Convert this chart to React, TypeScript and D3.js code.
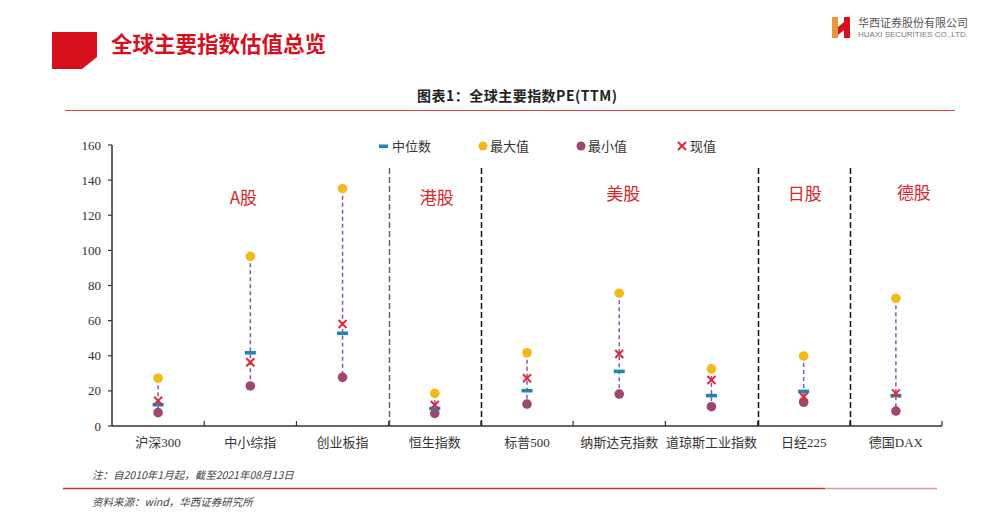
import React from "react";
import * as d3 from "d3";

const categories = ["沪深300", "中小综指", "创业板指", "恒生指数", "标普500", "纳斯达克指数", "道琼斯工业指数", "日经225", "德国DAX"];
const medianValues = [12.1, 41.7, 52.8, 10.0, 20.1, 31.1, 17.3, 19.7, 17.3];
const maxValues = [27.2, 96.6, 135.1, 18.6, 41.7, 75.6, 32.5, 39.9, 72.7];
const minValues = [7.6, 22.8, 27.7, 7.2, 12.5, 18.2, 11.0, 13.5, 8.5];
const currentValues = [14.4, 36.3, 58.1, 12.0, 27.2, 41.0, 26.2, 16.7, 18.6];
const yTicks = [0, 20, 40, 60, 80, 100, 120, 140, 160];
const groupNames = ["A股", "港股", "美股", "日股", "德股"];
const groupStarts = [0, 3, 4, 7, 8];
const groupEnds = [2, 3, 6, 7, 8];

const W = 1005;
const H = 519;
const C_MAX = "#f4b916";
const C_MIN = "#9c4770";
const C_MED = "#1a86b4";
const C_CUR = "#e0283c";
const C_LINK = "#8658a8";
const RED = "#d7101e";
const serif = "'Liberation Serif', 'Noto Sans CJK SC', serif";
const cjk = "'Noto Sans CJK SC', sans-serif";

function Cross({ x, y, s, c }: { x: number; y: number; s: number; c: string }) {
  return (
    <g stroke={c} strokeWidth={2}>
      <line x1={x - s} y1={y - s} x2={x + s} y2={y + s} />
      <line x1={x - s} y1={y + s} x2={x + s} y2={y - s} />
    </g>
  );
}

export default function App() {
  const x = d3.scaleBand<string>().domain(categories).range([112, 942]).padding(0);
  const y = d3.scaleLinear().domain([0, 160]).range([426, 145]);
  const bw = x.bandwidth();
  const cx = (i: number) => (x(categories[i]) as number) + bw / 2;
  const sepIdx = groupStarts.slice(1);
  const labelDx = [-7, 2, 4, 1, 18];
  const labelY = [198, 198, 194, 194, 193];

  return (
    <svg width={W} height={H} style={{ position: "absolute", left: 0, top: 0, background: "#fff" }}>
      <rect width={W} height={H} fill="#fff" />
      {/* header */}
      <polygon points="52,32 97,32 97,57 82,69 52,69" fill={RED} />
      <text x={111} y={52} fontFamily={cjk} fontWeight={700} fontSize={21.5} fill={RED}>全球主要指数估值总览</text>
      {/* logo */}
      <g>
        <rect x={832} y={17} width={6} height={21} fill="#e49a3c" />
        <rect x={844} y={17} width={6} height={21} fill="#d7101e" />
        <polygon points="838,27 844,22 844,30 838,35" fill="#d7101e" />
        <text x={858} y={27} fontFamily={cjk} fontSize={11} fill="#555">华西证券股份有限公司</text>
        <text x={858} y={37} fontFamily="'Liberation Sans', sans-serif" fontSize={8} fill="#777" textLength={110}>HUAXI SECURITIES CO.,LTD.</text>
      </g>
      {/* chart title */}
      <text x={517} y={101} textAnchor="middle" fontFamily={cjk} fontWeight={700} fontSize={14} fill="#222" textLength={200}>图表1：全球主要指数PE(TTM)</text>
      <line x1={65} x2={955} y1={110.5} y2={110.5} stroke="#d9454f" strokeWidth={1.2} />

      {/* legend */}
      <g fontFamily={cjk} fontSize={13} fill="#333">
        <rect x={379} y={144.5} width={9} height={3.5} fill={C_MED} />
        <text x={392} y={151}>中位数</text>
        <circle cx={483} cy={146} r={4.5} fill={C_MAX} />
        <text x={490} y={151}>最大值</text>
        <circle cx={581} cy={146} r={4.5} fill={C_MIN} />
        <text x={588} y={151}>最小值</text>
        <Cross x={682} y={146} s={4} c={C_CUR} />
        <text x={690} y={151}>现值</text>
      </g>

      {/* separators */}
      {sepIdx.map((gi, k) => {
        const sx = Math.round(x(categories[gi]) as number) + 0.5;
        return (
          <line key={k} x1={sx} x2={sx} y1={168} y2={426} stroke={k === 0 ? "#666" : "#111"} strokeWidth={1.5} strokeDasharray="6,3" />
        );
      })}

      {/* group labels */}
      {groupNames.map((g, i) => {
        const gx = ((x(categories[groupStarts[i]]) as number) + (x(categories[groupEnds[i]]) as number) + bw) / 2;
        return (
          <text key={g} x={gx + labelDx[i]} y={labelY[i] + 6} textAnchor="middle" fontFamily={cjk} fontSize={17} fill="#d6262e">{g}</text>
        );
      })}

      {/* y axis */}
      <line x1={112} x2={112} y1={145} y2={426} stroke="#333" strokeWidth={1.5} />
      {yTicks.map((t) => (
        <g key={t}>
          <line x1={108} x2={112} y1={y(t)} y2={y(t)} stroke="#333" strokeWidth={1.2} />
          <text x={101} y={y(t) + 4.5} textAnchor="end" fontFamily={serif} fontSize={13} fill="#333">{t}</text>
        </g>
      ))}
      {/* x axis */}
      <line x1={112} x2={942} y1={426} y2={426} stroke="#333" strokeWidth={1.5} />
      {categories.map((c, i) => {
        const tx = (x(c) as number) + bw;
        return <line key={"t" + i} x1={tx} x2={tx} y1={421} y2={426} stroke="#333" strokeWidth={1.2} />;
      })}
      {categories.map((c, i) => (
        <text key={"l" + i} x={cx(i)} y={447} textAnchor="middle" fontFamily={serif} fontSize={13} fill="#333">{c}</text>
      ))}

      {/* data */}
      {categories.map((c, i) => (
        <g key={"d" + i}>
          <line x1={cx(i)} x2={cx(i)} y1={y(maxValues[i])} y2={y(minValues[i])} stroke={C_LINK} strokeWidth={1.5} strokeDasharray="4,3" />
          <circle cx={cx(i)} cy={y(maxValues[i])} r={4.8} fill={C_MAX} />
          <circle cx={cx(i)} cy={y(minValues[i])} r={4.8} fill={C_MIN} />
          <rect x={cx(i) - 5.5} y={y(medianValues[i]) - 1.8} width={11} height={3.6} fill={C_MED} />
          <Cross x={cx(i)} y={y(currentValues[i])} s={4} c={C_CUR} />
        </g>
      ))}

      {/* footer */}
      <text x={92} y={479} fontFamily={cjk} fontStyle="italic" fontSize={10.5} fill="#444">注：自2010年1月起，截至2021年08月13日</text>
      <line x1={63} x2={825} y1={488.5} y2={488.5} stroke="#c8323c" strokeWidth={1.6} />
      <line x1={825} x2={937} y1={488.5} y2={488.5} stroke="#d89aa0" strokeWidth={1.4} />
      <text x={92} y={506} fontFamily={cjk} fontStyle="italic" fontSize={10.5} fill="#444">资料来源：wind，华西证券研究所</text>
    </svg>
  );
}
